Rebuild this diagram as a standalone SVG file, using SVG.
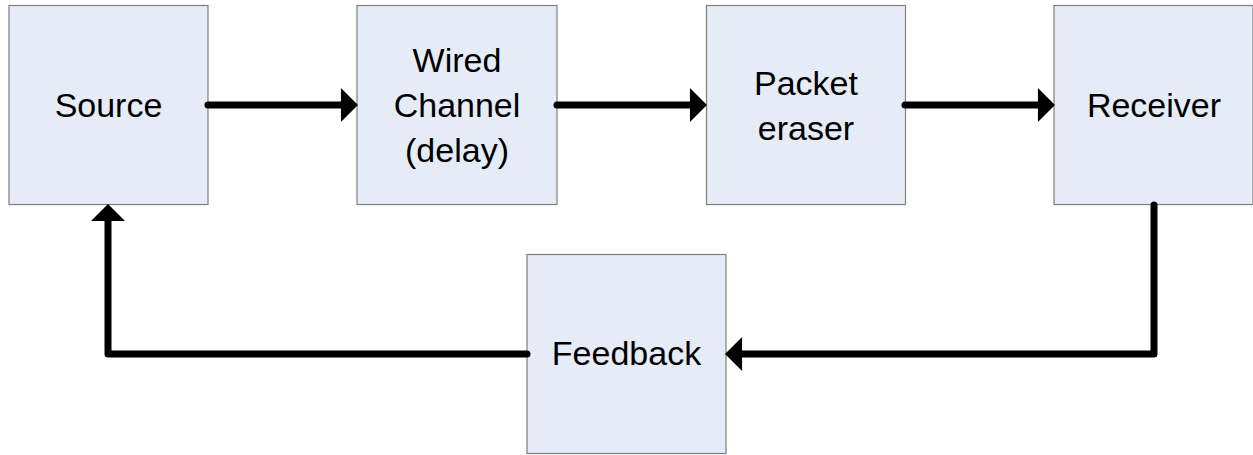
<svg xmlns="http://www.w3.org/2000/svg" width="1253" height="455" viewBox="0 0 1253 455">
<style>
.box{fill:#E6ECF7;stroke:#7F7F7F;stroke-width:1.2}
.lbl{font-family:"Liberation Sans",Arial,sans-serif;font-size:34px;fill:#000;text-anchor:middle}
.conn{fill:none;stroke:#000;stroke-width:7;stroke-linecap:round;stroke-linejoin:round}
</style>
<defs>
<marker id="ah" markerUnits="userSpaceOnUse" markerWidth="18" markerHeight="34" viewBox="0 -16 16 32" refX="1" refY="0" orient="auto">
<path d="M0,-16 L16,0 L0,16 z" fill="#000"/>
</marker>
</defs>
<rect width="1253" height="455" fill="#fff"/>
<g id="source">
<rect class="box" x="9" y="5.5" width="199" height="199"/>
<text class="lbl" x="108.5" y="117">Source</text>
</g>
<g id="wired-channel">
<rect class="box" x="357" y="5.5" width="200" height="199"/>
<text class="lbl" x="457" y="72">Wired</text>
<text class="lbl" x="457" y="117">Channel</text>
<text class="lbl" x="457" y="162">(delay)</text>
</g>
<g id="packet-eraser">
<rect class="box" x="706.5" y="5.5" width="199" height="199"/>
<text class="lbl" x="806" y="95">Packet</text>
<text class="lbl" x="806" y="140">eraser</text>
</g>
<g id="receiver">
<rect class="box" x="1054" y="5.5" width="199" height="199"/>
<text class="lbl" x="1154" y="117">Receiver</text>
</g>
<g id="feedback">
<rect class="box" x="527" y="254.5" width="199" height="199"/>
<text class="lbl" x="626.5" y="365">Feedback</text>
</g>
<g id="connectors">
<path class="conn" d="M208,105 H342" marker-end="url(#ah)"/>
<path class="conn" d="M557,105 H691" marker-end="url(#ah)"/>
<path class="conn" d="M905,105 H1039" marker-end="url(#ah)"/>
<path class="conn" d="M1154,205 V354 H741" marker-end="url(#ah)"/>
<path class="conn" d="M527,354 H108 V220" marker-end="url(#ah)"/>
</g>
</svg>
